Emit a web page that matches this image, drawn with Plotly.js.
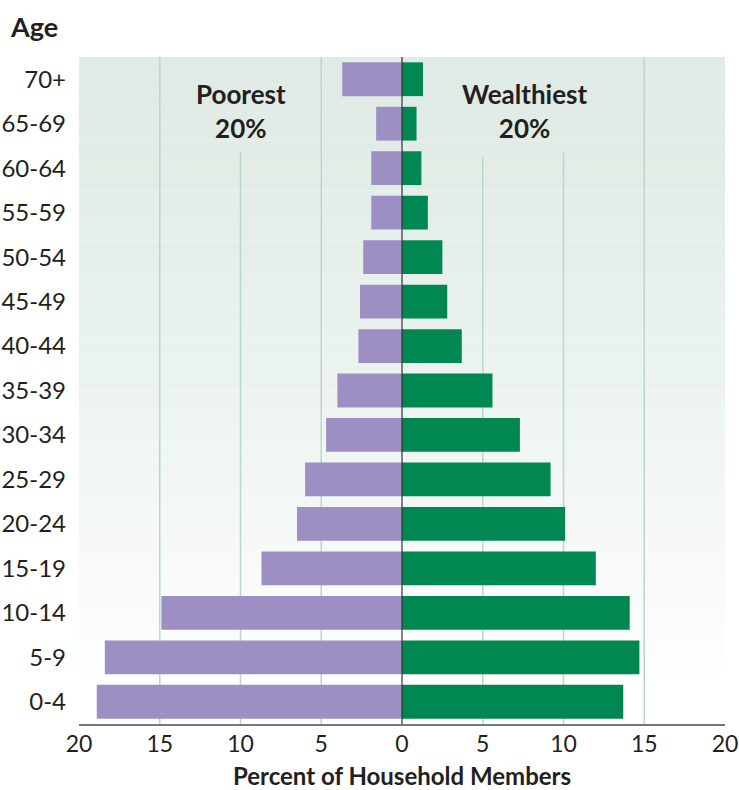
<!DOCTYPE html>
<html>
<head>
<meta charset="utf-8">
<script src="https://cdn.plot.ly/plotly-3.0.1.min.js"></script>
<style>html,body{margin:0;padding:0;background:#fff;}#chart{width:739px;height:790px;}</style>
</head>
<body>
<div id="chart"></div>
<script>
// Age groups, bottom to top
const ageGroups = ['0-4','5-9','10-14','15-19','20-24','25-29','30-34','35-39','40-44','45-49','50-54','55-59','60-64','65-69','70+'];
// Percent of household members
const poorest20 = [18.9, 18.4, 14.9, 8.7, 6.5, 6.0, 4.7, 4.0, 2.7, 2.6, 2.4, 1.9, 1.9, 1.6, 3.7];
const wealthiest20 = [13.7, 14.7, 14.1, 12.0, 10.1, 9.2, 7.3, 5.6, 3.7, 2.8, 2.5, 1.6, 1.2, 0.9, 1.3];
const xTickVals = [-20, -15, -10, -5, 0, 5, 10, 15, 20];
const xTickText = ['20', '15', '10', '5', '0', '5', '10', '15', '20'];

const FONT = 'Lato, "Open Sans", sans-serif';
const TXT = '#231f20';

const traces = [
  {
    type: 'bar', orientation: 'h', name: 'Poorest 20%',
    y: ageGroups, x: poorest20.map(v => -v),
    marker: {color: '#9d8ec3'}, hoverinfo: 'skip'
  },
  {
    type: 'bar', orientation: 'h', name: 'Wealthiest 20%',
    y: ageGroups, x: wealthiest20,
    marker: {color: '#008752'}, hoverinfo: 'skip'
  }
];

// background gradient bands (light green at top fading to white)
const shapes = [];
const N = 40;
const bgTop = [223, 235, 228], bgBot = [255, 255, 255];
for (let i = 0; i < N; i++) {
  const t = i / (N - 1); // 0 at top
  const k = Math.min(1, Math.pow(t, 1.3) * 1.05);
  const c = bgTop.map((a, j) => Math.round(a + (bgBot[j] - a) * k));
  shapes.push({
    type: 'rect', xref: 'paper', yref: 'paper', layer: 'below',
    x0: 0, x1: 1, y0: 1 - (i + 1) / N, y1: 1 - i / N,
    fillcolor: 'rgb(' + c.join(',') + ')', line: {width: 0}
  });
}
// gridlines
const gridFull = [-15, -5, 15];
const gridShort = [[-10, 0.858], [5, 0.85], [10, 0.857]];
gridFull.forEach(x => shapes.push({type: 'line', xref: 'x', yref: 'paper', layer: 'below', x0: x, x1: x, y0: 0, y1: 1, line: {color: '#b8d8ca', width: 1.5}}));
gridShort.forEach(g => shapes.push({type: 'line', xref: 'x', yref: 'paper', layer: 'below', x0: g[0], x1: g[0], y0: 0, y1: g[1], line: {color: '#b8d8ca', width: 1.5}}));
// zero line
shapes.push({type: 'line', xref: 'x', yref: 'paper', layer: 'above', x0: 0, x1: 0, y0: 0, y1: 1, line: {color: '#333', width: 1.2}});

const layout = {
  width: 739, height: 790,
  margin: {l: 79, r: 14, t: 57, b: 66},
  paper_bgcolor: '#ffffff',
  plot_bgcolor: 'rgba(0,0,0,0)',
  barmode: 'relative',
  bargap: 0.24,
  showlegend: false,
  font: {family: FONT, color: TXT, size: 21},
  xaxis: {
    range: [-20, 20], fixedrange: true,
    tickvals: xTickVals, ticktext: xTickText,
    showgrid: false, zeroline: false,
    showline: true, linecolor: '#777', linewidth: 2,
    ticks: '', ticklen: 0,
    tickfont: {family: FONT, size: 23, color: TXT},
    ticklabelstandoff: -2,
    title: {text: 'Percent of Household Members', font: {family: FONT, size: 24, color: TXT, weight: 'bold'}, standoff: 14}
  },
  yaxis: {
    range: [-0.5, 14.5], fixedrange: true,
    showgrid: false, zeroline: false, showline: false,
    ticks: '', ticklen: 0,
    tickfont: {family: FONT, size: 24, color: TXT},
    ticklabelstandoff: 12,
    automargin: false
  },
  shapes: shapes,
  annotations: [
    {xref: 'paper', yref: 'paper', x: -0.11, y: 1.046, xanchor: 'left', yanchor: 'middle', showarrow: false,
     text: 'Age', font: {family: FONT, size: 27, color: TXT, weight: 'bold'}},
    {xref: 'x', yref: 'paper', x: -10, y: 0.919, xanchor: 'center', yanchor: 'middle', showarrow: false,
     text: 'Poorest<br>20%', font: {family: FONT, size: 26, color: TXT, weight: 'bold'}},
    {xref: 'x', yref: 'paper', x: 7.6, y: 0.919, xanchor: 'center', yanchor: 'middle', showarrow: false,
     text: 'Wealthiest<br>20%', font: {family: FONT, size: 26, color: TXT, weight: 'bold'}}
  ]
};

Plotly.newPlot('chart', traces, layout, {staticPlot: true, displayModeBar: false});
</script>
</body>
</html>
